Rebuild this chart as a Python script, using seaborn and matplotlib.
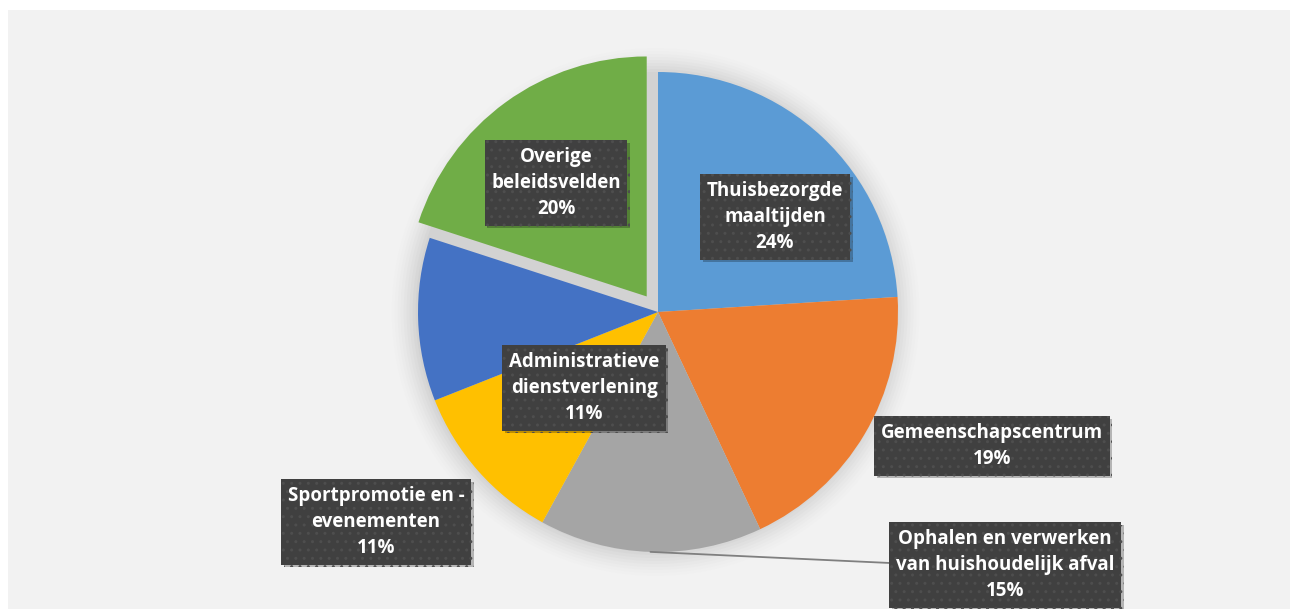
import seaborn as sns
import matplotlib.pyplot as plt
import matplotlib.patheffects as pe
from matplotlib.patches import Rectangle, Circle
import numpy as np

labels = ['Thuisbezorgde\nmaaltijden', 'Gemeenschapscentrum',
          'Ophalen en verwerken\nvan huishoudelijk afval',
          'Sportpromotie en -\nevenementen', 'Administratieve\ndienstverlening',
          'Overige\nbeleidsvelden']
shares = [24, 19, 15, 11, 11, 20]
colors = ['#5B9BD5', '#ED7D31', '#A5A5A5', '#FFC000', '#4472C4', '#70AD47']

sns.set_theme(style='white')
plt.rcParams['font.family'] = ['Open Sans', 'DejaVu Sans']

fig = plt.figure(figsize=(12.98, 6.09), dpi=100)
fig.patch.set_facecolor('white')
fig.patches.append(Rectangle((8 / 1298, 0), 1282 / 1298, 599 / 609,
                             transform=fig.transFigure, facecolor='#F2F2F2',
                             edgecolor='none', zorder=-10))

ax = fig.add_axes([0, 0, 1, 1])
ax.set_facecolor('none')

wedges, _ = ax.pie(shares, colors=sns.color_palette(colors), startangle=90,
                   counterclock=False, explode=[0, 0, 0, 0, 0, 0.08],
                   wedgeprops=dict(linewidth=0), radius=1.0)
for w in wedges:
    w.set_zorder(2)

# pixel scale: pie radius 240 px, centre at (658, 312) from top-left
px = 240.0
cx, cy = 658, 312
ax.set_xlim(-cx / px, (1298 - cx) / px)
ax.set_ylim(-(609 - cy) / px, cy / px)
ax.set_aspect('equal')
ax.axis('off')

# soft shadow behind the pie
for r, a in zip(np.linspace(1.10, 1.0, 9), np.linspace(0.012, 0.05, 9)):
    ax.add_patch(Circle((-0.01, 0.0), r, color='#808080', alpha=a, lw=0, zorder=0))

# label box centres in pixel coordinates (layout only)
label_pos = [(775, 217), (992, 446), (1005, 565), (376, 522), (584, 388), (556, 183)]

fs = 13.5
for lab, val, (lx, ly) in zip(labels, shares, label_pos):
    x = (lx - cx) / px
    y = (cy - ly) / px
    t = ax.text(x, y, f'{lab}\n{val}%', ha='center', va='center', fontsize=fs,
                fontweight='bold', color='white', linespacing=1.4, zorder=5,
                bbox=dict(boxstyle='square,pad=0.35', facecolor='#404040',
                          edgecolor='#4E4E4E', hatch='..', linewidth=0))
    t.get_bbox_patch().set_path_effects(
        [pe.SimplePatchShadow(offset=(2, -2), shadow_rgbFace='black', alpha=0.25),
         pe.Normal()])

# leader line for the grey slice
w = wedges[2]
mid = np.deg2rad((w.theta1 + w.theta2) / 2)
ax.plot([np.cos(mid), (890 - cx) / px], [np.sin(mid), (cy - 563) / px],
        color='#7F7F7F', lw=1.3, zorder=3)

fig.savefig('out.png', dpi=100, facecolor='white')
